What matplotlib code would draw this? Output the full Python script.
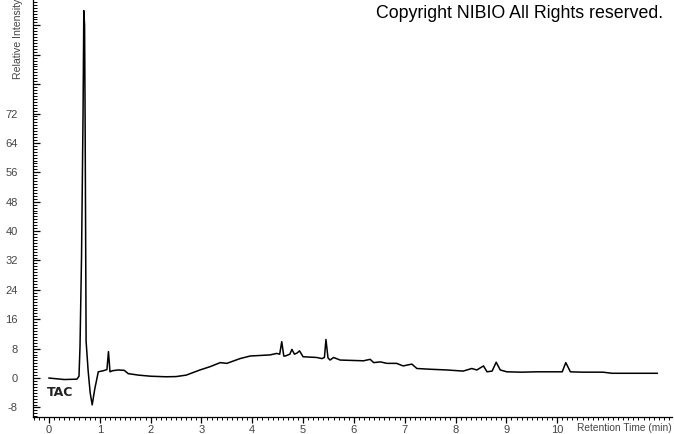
import matplotlib.pyplot as plt
from matplotlib.ticker import MultipleLocator

# TAC trace (time in min, relative intensity)
time_min = [0.0, 0.3, 0.55, 0.59, 0.61, 0.64, 0.67, 0.685, 0.70, 0.71, 0.73,
            0.77, 0.81, 0.85, 0.90, 0.97, 1.07, 1.14, 1.17, 1.20, 1.25,
            1.36, 1.48, 1.56, 1.76, 2.0, 2.3, 2.5, 2.7, 2.97, 3.17, 3.37,
            3.5, 3.56, 3.76, 3.96, 4.35, 4.48, 4.54, 4.58, 4.62, 4.65, 4.74,
            4.78, 4.83, 4.88, 4.93, 5.0, 5.27, 5.37, 5.42, 5.45, 5.49, 5.53,
            5.6, 5.73, 6.19, 6.32, 6.39, 6.52, 6.65, 6.84, 6.97, 7.14,
            7.24, 7.5, 7.83, 8.15, 8.32, 8.42, 8.55, 8.62, 8.72, 8.80, 8.88,
            9.01, 9.3, 9.6, 10.1, 10.17, 10.26, 10.5, 10.9, 11.08, 11.5,
            11.97]
intensity = [0.0, -0.4, -0.3, 0.5, 8.5, 33.0, 72.0, 100.0, 96.0, 72.0, 10.0,
             2.0, -4.0, -7.3, -3.0, 1.7, 2.0, 2.3, 7.2, 1.7, 2.0,
             2.2, 2.1, 1.2, 0.8, 0.5, 0.35, 0.4, 0.8, 2.2, 3.1, 4.2,
             4.0, 4.3, 5.3, 6.0, 6.3, 6.7, 6.5, 9.9, 6.0, 6.0, 6.5,
             7.8, 6.5, 6.8, 7.4, 5.8, 5.6, 5.3, 5.6, 10.5, 5.5, 4.9,
             5.6, 4.9, 4.7, 5.1, 4.2, 4.4, 4.0, 4.0, 3.3, 3.8,
             2.6, 2.4, 2.2, 1.9, 2.6, 2.2, 3.3, 1.7, 1.9, 4.3, 2.2,
             1.7, 1.6, 1.7, 1.7, 4.2, 1.7, 1.6, 1.6, 1.3, 1.3,
             1.3]

x_major = list(range(0, 11))
y_major = list(range(-8, 104, 8))
y_labels = [str(v) if v <= 72 else "" for v in y_major]

fig = plt.figure(figsize=(6.74, 4.34), dpi=100)
ax = fig.add_axes([33 / 674, 17 / 434, 639 / 674, 417 / 434])

ax.plot(time_min, intensity, color="black", lw=1.1)

ax.set_xlim(-0.315, 12.26)
ax.set_ylim(-10.6, 102.9)

ax.set_xticks(x_major)
ax.xaxis.set_minor_locator(MultipleLocator(0.1))
ax.set_yticks(y_major)
ax.set_yticklabels(y_labels)
ax.yaxis.set_minor_locator(MultipleLocator(0.8))

for s in ["top", "right"]:
    ax.spines[s].set_visible(False)
ax.spines["left"].set_linewidth(0.9)
ax.spines["bottom"].set_linewidth(0.9)

grey = "#444444"
ax.tick_params(axis="x", which="major", direction="out", length=4, width=0.9, pad=2)
ax.tick_params(axis="x", which="minor", direction="out", length=2, width=0.7)
ax.tick_params(axis="y", which="major", direction="in", length=5, width=0.9, pad=11)
ax.tick_params(axis="y", which="minor", direction="in", length=3, width=0.7)
for lab in ax.get_xticklabels() + ax.get_yticklabels():
    lab.set_fontfamily("Liberation Sans")
    lab.set_fontsize(8)
    lab.set_color(grey)

ax.text(-0.04, -3.8, "TAC", fontsize=9, fontweight="bold", family="DejaVu Sans",
        ha="left", va="center", color="#222222")

fig.text(577 / 674, 1 - 428 / 434, "Retention Time (min)", family="Liberation Sans",
         fontsize=7.3, color=grey, ha="left", va="center")
fig.text(18 / 674, 1 - 79 / 434, "Relative Intensity", rotation=90, ha="center",
         va="bottom", family="Liberation Sans", fontsize=7.6, color=grey)
fig.text(376 / 674, 1 - 14 / 434, "Copyright NIBIO All Rights reserved.",
         family="Liberation Sans", fontsize=12.8, ha="left", va="center")

fig.savefig("out.png", dpi=100)
